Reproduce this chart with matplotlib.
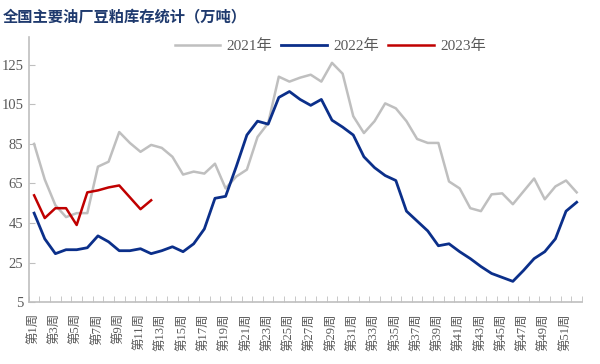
import numpy as np
import matplotlib
matplotlib.use("Agg")
import matplotlib.pyplot as plt

plt.rcParams['font.family'] = ['Liberation Serif', 'Noto Sans CJK SC']

weeks = np.arange(1, 53)
week_labels = ["第%d周" % w for w in weeks]

# 2021
y2021 = [85, 67, 54, 48, 50, 50, 73.5, 76, 91, 85.5, 81, 84.5, 83, 78.5, 69.5, 71,
         70, 75, 62.5, 68.5, 72, 88.5, 95.5, 119, 116.5, 118.5, 120, 116.5, 126, 120.5,
         99, 90.5, 96.5, 105.5, 103, 96.5, 87.5, 85.5, 85.5, 66, 62.5, 52.5, 51, 59.5,
         60, 54.5, 61, 67.5, 57, 63.5, 66.5, 60.5]
# 2022
y2022 = [50, 37, 29.5, 31.5, 31.5, 32.5, 38.5, 35.5, 31, 31, 32, 29.5, 31, 33, 30.5, 34.5,
         42, 57.5, 58.5, 73.5, 89.5, 96.5, 95, 108.5, 111.5, 107.5, 104.5, 107.5, 97, 93.5,
         89.5, 78.5, 73, 69, 66.5, 51, 46, 41, 33.5, 34.5, 30.5, 27, 23, 19.5, 17.5, 15.5,
         21, 27, 30.5, 37, 51, 55.5]
# 2023
y2023 = [59, 47.5, 52.5, 52.5, 44, 60.5, 61.5, 63, 64, 58, 52, 56.5]

fig = plt.figure(figsize=(6, 3.64), dpi=100)
ax = fig.add_axes([0.048, 0.170, 0.922, 0.728])

ax.plot(weeks, y2021, color='#BFBFBF', lw=1.8, label='2021年')
ax.plot(weeks, y2022, color='#0B2F8A', lw=2.0, label='2022年')
ax.plot(weeks[:len(y2023)], y2023, color='#C00000', lw=1.8, label='2023年')

ax.set_xlim(0.5, 52.5)
ax.set_ylim(5, 139)
ax.set_yticks(np.arange(5, 126, 20))
ax.set_xticks(weeks[::2])
ax.set_xticklabels(week_labels[::2], rotation=90, fontsize=9, color='#595959')
ax.set_xticks(np.arange(0.5, 53, 1), minor=True)
ax.tick_params(axis='x', which='major', length=0, pad=8)
ax.tick_params(axis='x', which='minor', direction='in', length=4, color='#BFBFBF')
ax.tick_params(axis='y', direction='in', length=4, color='#BFBFBF',
               labelsize=10.5, labelcolor='#595959', pad=4)

for s in ['top', 'right']:
    ax.spines[s].set_visible(False)
for s in ['left', 'bottom']:
    ax.spines[s].set_color('#BFBFBF')
    ax.spines[s].set_linewidth(1.2)

fig.text(0.005, 0.955, '全国主要油厂豆粕库存统计（万吨）', fontsize=11, fontweight='bold',
         color='#1F3A6E', family=['Noto Sans CJK SC'], va='center')

ax.legend(loc='center', bbox_to_anchor=(0.545, 0.965), ncol=3, frameon=False,
          fontsize=11, handlelength=3.0, columnspacing=0.6, handletextpad=0.4,
          labelcolor='#595959')

fig.savefig('out.png', dpi=100)
